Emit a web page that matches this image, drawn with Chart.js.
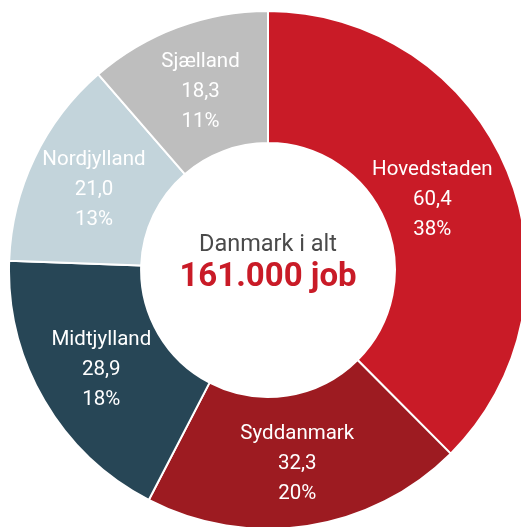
<!DOCTYPE html>
<html>
<head>
<meta charset="utf-8">
<script src="https://cdn.jsdelivr.net/npm/chart.js@4"></script>
<style>
    html, body { margin: 0; padding: 0; background: #fff; overflow: hidden; }
    #wrap { position: absolute; left: 8px; top: 10px; width: 520px; height: 520px; }
</style>
</head>
<body>
<div id="wrap"><canvas id="regionChart"></canvas></div>
<script>
var regions = ['Hovedstaden', 'Syddanmark', 'Midtjylland', 'Nordjylland', 'Sjælland'];
var jobs = [60.4, 32.3, 28.9, 21.0, 18.3]; // tusinde job
var colors = ['#c91b27', '#9d1b21', '#274656', '#c3d4db', '#bebebe'];
var centerTitle = 'Danmark i alt';
var centerTotal = '161.000 job';

var fontFamily = 'Roboto, "Open Sans", sans-serif';

// labels inside each slice: name, value and share
var sliceLabels = {
    id: 'sliceLabels',
    afterDatasetsDraw: function (chart) {
        var ctx = chart.ctx;
        var meta = chart.getDatasetMeta(0);
        var total = jobs.reduce((a, b) => a + b, 0);
        ctx.save();
        ctx.fillStyle = '#ffffff';
        ctx.textAlign = 'center';
        ctx.textBaseline = 'middle';
        ctx.font = '20.5px ' + fontFamily;
        meta.data.forEach((arc, i) => {
            var pos = arc.tooltipPosition();
            var x = pos.x + (i === 0 ? -14 : 0);
            var y = pos.y + 3;
            var pct = Math.round(jobs[i] / total * 100) + '%';
            ctx.fillText(regions[i], x, y - 30);
            ctx.fillText(jobs[i].toFixed(1).replace('.', ','), x, y);
            ctx.fillText(pct, x, y + 30);
        });

        // center text
        var c = meta.data[0];
        ctx.fillStyle = '#4a4a4a';
        ctx.font = '23.5px ' + fontFamily;
        ctx.fillText(centerTitle, c.x, c.y - 25);
        ctx.fillStyle = '#c91b27';
        ctx.font = 'bold 33px ' + fontFamily;
        ctx.fillText(centerTotal, c.x, c.y + 8);
        ctx.restore();
    }
};

var ctx = document.getElementById('regionChart').getContext('2d');
new Chart(ctx, {
    type: 'doughnut',
    data: {
        labels: regions,
        datasets: [{
            data: jobs,
            backgroundColor: colors,
            borderColor: '#ffffff',
            borderWidth: 2
        }]
    },
    options: {
        responsive: true,
        maintainAspectRatio: false,
        animation: false,
        cutout: '49%',
        layout: { padding: 0 },
        plugins: {
            legend: { display: false },
            tooltip: { enabled: false }
        }
    },
    plugins: [sliceLabels]
});
</script>
</body>
</html>
